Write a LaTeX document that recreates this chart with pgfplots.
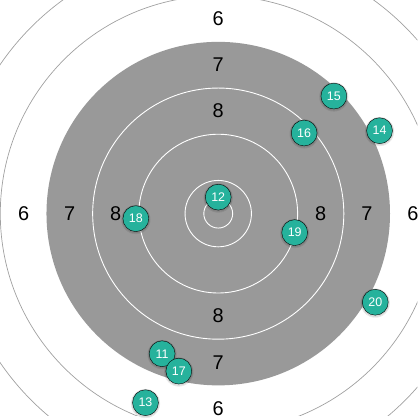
\documentclass[border=0pt]{standalone}
\usepackage{pgfplots}
\usepackage{pgfplotstable}
\pgfplotsset{compat=1.18}
\usepackage{fontspec}
\setmainfont{Liberation Sans}
\definecolor{blackarea}{HTML}{999999}
\definecolor{outerring}{HTML}{A0A0A0}
\definecolor{shot}{HTML}{26B29C}

% shot positions in mm from the centre (air pistol target)
\pgfplotstableread{
x y label
-9.72 -24.27 11
0.00 2.85 12
-12.60 -32.75 13
27.94 14.36 14
20.03 20.36 15
14.88 13.96 16
-6.83 -27.28 17
-14.27 -0.87 18
13.24 -3.29 19
27.20 -15.35 20
}\shots

\begin{document}
\begin{tikzpicture}[ringlabel/.style={font=\fontsize{20}{24}\selectfont, text=black}]
\begin{axis}[
  x=5.78bp, y=5.78bp,
  xmin=-37.8, xmax=34.5,
  ymin=-34.9, ymax=37.0,
  hide axis, clip=true,
]
% target
\fill[blackarea] (axis cs:0,0) circle[radius=29.75];
\pgfplotsinvokeforeach{2.5,5.75,13.75,21.75}{
  \draw[white, line width=0.9pt] (axis cs:0,0) circle[radius=#1];
}
\pgfplotsinvokeforeach{37.75,45.75,53.75}{
  \draw[outerring, line width=0.7pt] (axis cs:0,0) circle[radius=#1];
}
% ring numbers
\node[ringlabel] at (axis cs:0,17.75) {8};
\node[ringlabel] at (axis cs:0,-17.75) {8};
\node[ringlabel] at (axis cs:-17.75,0) {8};
\node[ringlabel] at (axis cs:17.75,0) {8};
\node[ringlabel] at (axis cs:0,25.75) {7};
\node[ringlabel] at (axis cs:0,-25.75) {7};
\node[ringlabel] at (axis cs:-25.75,0) {7};
\node[ringlabel] at (axis cs:25.75,0) {7};
\node[ringlabel] at (axis cs:0,33.7) {6};
\node[ringlabel] at (axis cs:0,-33.7) {6};
\node[ringlabel] at (axis cs:-33.7,0) {6};
\node[ringlabel] at (axis cs:33.7,0) {6};
% soft shadow
\addplot[only marks, mark=*, mark size=14.5,
  mark options={fill=black, draw=none, opacity=0.06}]
  table[x=x, y expr=\thisrow{y}-0.15] {\shots};
\addplot[only marks, mark=*, mark size=13.8,
  mark options={fill=black, draw=none, opacity=0.08}]
  table[x=x, y expr=\thisrow{y}-0.1] {\shots};
% shots
\addplot[only marks, mark=*, mark size=13,
  mark options={fill=shot, draw=none},
  nodes near coords, point meta=explicit symbolic,
  every node near coord/.append style={anchor=center, text=white,
    font=\fontsize{12.5}{12.5}\selectfont}]
  table[x=x, y=y, meta=label] {\shots};
\path (axis cs:-37.8,-34.9) rectangle (axis cs:34.5,37.0);
\end{axis}
\end{tikzpicture}
\end{document}
